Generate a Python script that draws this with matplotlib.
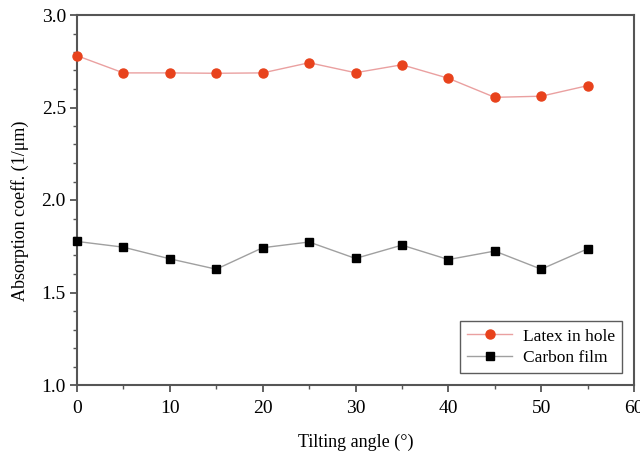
import numpy as np
import matplotlib
matplotlib.use("Agg")
import matplotlib.pyplot as plt
from matplotlib.ticker import MultipleLocator

angle = [0, 5, 10, 15, 20, 25, 30, 35, 40, 45, 50, 55]
latex = [2.78, 2.687, 2.687, 2.685, 2.687, 2.742, 2.688, 2.731, 2.658, 2.555, 2.561, 2.618]
carbon = [1.776, 1.745, 1.682, 1.626, 1.742, 1.773, 1.684, 1.756, 1.678, 1.724, 1.626, 1.736]

plt.rcParams["font.family"] = ["Liberation Serif", "DejaVu Serif"]
plt.rcParams["mathtext.fontset"] = "stix"

fig = plt.figure(figsize=(6.4, 4.54), dpi=100)
ax = fig.add_axes([77 / 640, 1 - 385 / 454, (634 - 77) / 640, (385 - 15) / 454])

ax.plot(angle, latex, color="#eaa0a0", lw=1.0, marker="o", ms=6.5,
        mfc="#e8421c", mec="#e8421c", label="Latex in hole", clip_on=False, zorder=3)
ax.plot(angle, carbon, color="#a0a0a0", lw=1.0, marker="s", ms=5.5,
        mfc="black", mec="black", label="Carbon film", clip_on=False, zorder=3)

ax.set_xlim(0, 60)
ax.set_ylim(1.0, 3.0)
ax.xaxis.set_major_locator(MultipleLocator(10))
ax.xaxis.set_minor_locator(MultipleLocator(5))
ax.yaxis.set_major_locator(MultipleLocator(0.5))
ax.yaxis.set_minor_locator(MultipleLocator(0.1))
ax.yaxis.set_major_formatter(matplotlib.ticker.FormatStrFormatter("%.1f"))

for s in ax.spines.values():
    s.set_color("#555555")
    s.set_linewidth(1.5)
ax.tick_params(which="both", direction="out", color="#555555", top=False, right=False)
ax.tick_params(which="major", length=5, width=1.3, labelsize=14)
ax.tick_params(axis="x", which="major", pad=6)
ax.tick_params(axis="y", which="major", pad=3)
ax.tick_params(which="minor", length=3, width=1.0)

ax.set_xlabel("Tilting angle (°)", fontsize=13, labelpad=12)
ax.set_ylabel("Absorption coeff. (1/μm)", fontsize=13)
ax.yaxis.set_label_coords(-0.087, 0.47)

leg = ax.legend(loc="lower right", fontsize=12.5, frameon=True, fancybox=False,
                edgecolor="#333333", borderaxespad=0.7, handlelength=2.6,
                labelspacing=0.3, borderpad=0.4, handletextpad=0.6)
leg.get_frame().set_linewidth(1.0)

fig.savefig("out.png", dpi=100)
